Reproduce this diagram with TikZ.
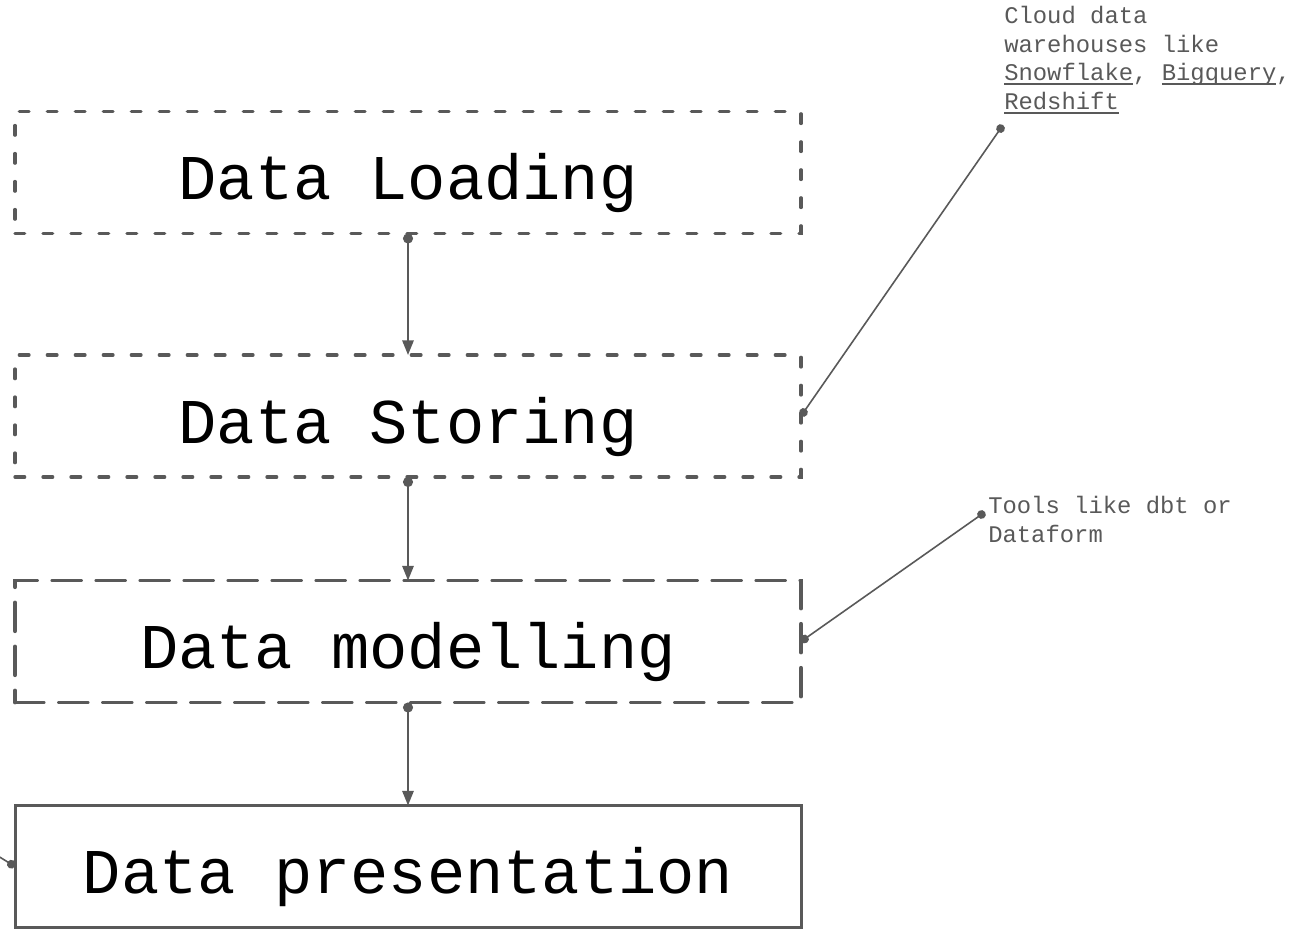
\documentclass[tikz,border=0pt]{standalone}
\usepackage{fontspec}
\setmainfont{Liberation Mono}
\usetikzlibrary{arrows.meta}
\definecolor{edge}{HTML}{595959}
% underline at a fixed depth, so descenders do not push it down
\newcommand\linkword[1]{\setbox0\hbox{#1}\rlap{\rule[-3pt]{\wd0}{1.4pt}}\box0}

\begin{document}
\begin{tikzpicture}[x=0.75pt,y=-0.75pt,
  stage/.style={draw=edge, rectangle, minimum width=589.5pt, minimum height=91.5pt,
    inner sep=0pt, outer sep=0pt, text height=40.5pt, text depth=0pt,
    font=\fontsize{47.8}{57}\selectfont},
  shortdash/.style={stage, line width=2.5pt, line cap=round, dash pattern=on 7.25pt off 13.75pt},
  longdash/.style={stage, line width=2.9pt, line cap=round, dash pattern=on 21.5pt off 11.5pt},
  solidbox/.style={stage, line width=2.25pt},
  flow/.style={draw=edge, line width=1.5pt, {Circle[length=7.5pt]}-{Triangle[length=11pt,width=8.5pt]}},
  pin/.style={draw=edge, line width=1.2pt, {Circle[length=6.5pt]}-{Circle[length=6.5pt]}},
  halfpin/.style={draw=edge, line width=1.2pt, {Circle[length=6.5pt]}-},
  note/.style={text=edge, align=left, anchor=north west, inner sep=0pt,
    font=\fontsize{17.9}{21.5}\selectfont}]

\useasboundingbox (0,0) rectangle (1305,930);

% pipeline stages
\node[shortdash] (load)    at (408,172.5) {Data Loading};
\node[shortdash] (store)   at (408,416)   {Data Storing};
\node[longdash]  (model)   at (408,641.5) {Data modelling};
\node[solidbox]  (present) at (408,866.5) {Data presentation};

\draw[flow] (load) -- (store);
\draw[flow] (store) -- (model);
\draw[flow] (model) -- (present);

% side notes
\node[note] (cloudnote) at (1004,6)
  {Cloud data\\warehouses like\\\linkword{Snowflake}, \linkword{Bigquery},\\\linkword{Redshift}};
\node[note] (toolnote) at (988,496) {Tools like dbt or\\Dataform};

\coordinate (cloudpin) at (1003,125);
\coordinate (toolpin)  at (985,512);
\coordinate (offpin)   at (-2,856);

\draw[pin] (cloudpin) -- (store.east);
\draw[pin] (toolpin) -- (model.east);
\draw[halfpin] (present.west) -- (offpin);
\end{tikzpicture}
\end{document}
